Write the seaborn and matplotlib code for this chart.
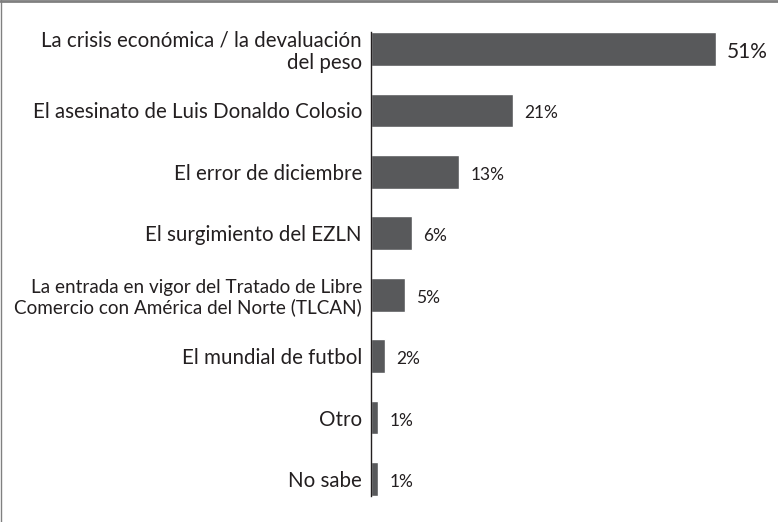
import matplotlib
matplotlib.use('Agg')
import matplotlib.pyplot as plt
import seaborn as sns
import pandas as pd
from matplotlib.lines import Line2D

# Datos
categorias = [
    'La crisis económica / la devaluación\ndel peso',
    'El asesinato de Luis Donaldo Colosio',
    'El error de diciembre',
    'El surgimiento del EZLN',
    'La entrada en vigor del Tratado de Libre\nComercio con América del Norte (TLCAN)',
    'El mundial de futbol',
    'Otro',
    'No sabe',
]
porcentajes = [51, 21, 13, 6, 5, 2, 1, 1]

df = pd.DataFrame({'Categoria': categorias, 'Porcentaje': porcentajes})

sns.set_style('white')
plt.rcParams['font.family'] = ['Lato', 'DejaVu Sans']

fig = plt.figure(figsize=(7.78, 5.22), dpi=100)
ax = fig.add_axes([371 / 778, 0.0236, 407 / 778, 0.9414])

sns.barplot(data=df, y='Categoria', x='Porcentaje', orient='h', order=categorias,
            color='#58595b', saturation=1, width=0.55, ax=ax)

ax.set_xlim(0, 60.2)
ax.set_ylim(7.5, -0.5)
ax.set_xlabel('')
ax.set_ylabel('')
ax.set_xticks([])
ax.tick_params(axis='y', length=0, pad=6.5, labelsize=14.8)
for lbl in ax.get_yticklabels():
    lbl.set_multialignment('right')
    lbl.set_color('#231f20')
    lbl.set_linespacing(1.15)
    # las siglas van en versalitas en el original: etiqueta algo más pequeña
    if 'TLCAN' in lbl.get_text():
        lbl.set_fontsize(13.6)

sns.despine(ax=ax, top=True, right=True, bottom=True, left=False)
ax.spines['left'].set_color('#231f20')
ax.spines['left'].set_linewidth(1.0)
ax.spines['left'].set_bounds(-0.275, 7.275)

# Etiquetas de valor
for i, v in enumerate(porcentajes):
    size = 15 if v == max(porcentajes) else 12.5
    ax.text(v + 1.7, i + 0.05, f'{v}%', va='center', ha='left',
            fontsize=size, color='#231f20')

# Marco de la figura (arriba e izquierda)
fig.add_artist(Line2D([0, 1], [0.998, 0.998], transform=fig.transFigure,
                      color='#808080', linewidth=2))
fig.add_artist(Line2D([0.001, 0.001], [0, 1], transform=fig.transFigure,
                      color='#808080', linewidth=1))

fig.savefig('out.png', dpi=100)
plt.close(fig)
